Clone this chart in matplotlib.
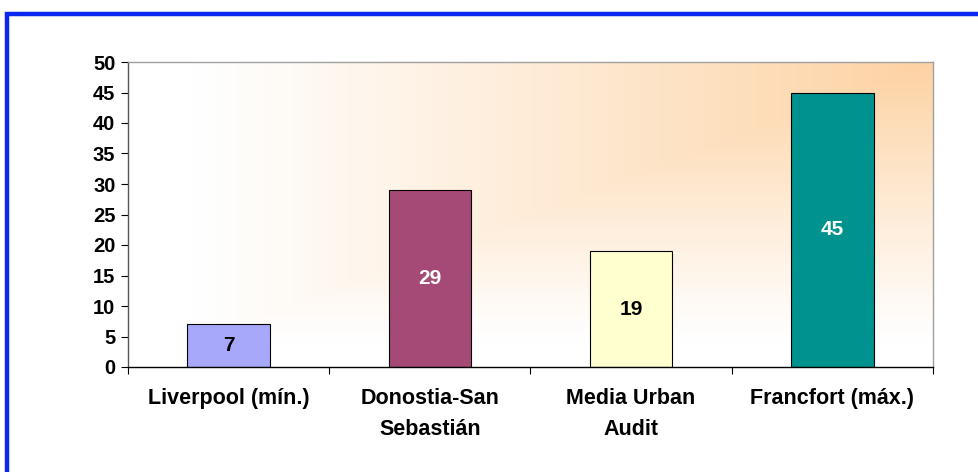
import numpy as np
import matplotlib.pyplot as plt
from matplotlib.patches import Rectangle

# Datos
categorias = ['Liverpool (mín.)', 'Donostia-San\nSebastián', 'Media Urban\nAudit', 'Francfort (máx.)']
valores = [7, 29, 19, 45]
colores = ['#A8A8FA', '#A54A77', '#FFFFD0', '#00928F']
colores_texto = ['black', 'white', 'black', 'white']

plt.rcParams['font.family'] = ['Liberation Sans', 'DejaVu Sans']

fig = plt.figure(figsize=(9.79, 4.72), dpi=100)
ax = fig.add_axes([128 / 979, 1 - 367 / 472, (933 - 128) / 979, (367 - 62) / 472])

# Marco azul (solo se ven los lados izquierdo y superior)
fig.patches.append(Rectangle((7 / 979, -0.1), 1.2, (472 - 13.5) / 472 + 0.1,
                             transform=fig.transFigure, fill=False,
                             edgecolor='#0A28F0', linewidth=3.2, zorder=0))

# Fondo degradado desde la esquina superior derecha (bandas rectangulares)
nx, ny = 400, 200
fx = np.linspace(0, 1, nx)[None, :]
fy = np.linspace(0, 1, ny)[:, None]
t = np.clip((np.minimum(fx, fy) - 0.08) / 0.92, 0, 1) ** 1.1
blanco = np.array([1.0, 1.0, 1.0])
melocoton = np.array([253, 210, 162]) / 255
img = blanco + (melocoton - blanco) * t[..., None]
ax.imshow(img, extent=[-0.5, 3.5, 0, 50], origin='lower', aspect='auto',
          interpolation='bilinear', zorder=0)

x = np.arange(len(valores))
ax.bar(x, valores, width=0.41, color=colores, edgecolor='black', linewidth=0.8, zorder=2)

for xi, v, c in zip(x, valores, colores_texto):
    ax.text(xi, v / 2, str(v), ha='center', va='center', color=c,
            fontsize=15, fontweight='bold', zorder=3)

ax.set_xlim(-0.5, 3.5)
ax.set_ylim(0, 50)
ax.set_yticks(np.arange(0, 51, 5))
ax.set_yticklabels([str(v) for v in range(0, 51, 5)], fontsize=14.5, fontweight='bold')

ax.set_xticks(np.arange(-0.5, 3.6, 1))
ax.set_xticklabels([])
ax.set_xticks(x, minor=True)
ax.set_xticklabels(categorias, minor=True, fontsize=15.5, fontweight='bold', linespacing=1.65)
ax.tick_params(axis='x', which='minor', length=0, pad=15)
ax.tick_params(axis='x', which='major', length=5, direction='out', width=0.8)
ax.tick_params(axis='y', length=5, direction='out', width=0.8, pad=4)

ax.spines['left'].set_color('#555555')
ax.spines['bottom'].set_color('black')
ax.spines['top'].set_color('#A0A0A0')
ax.spines['right'].set_color('#A0A0A0')
for s in ax.spines.values():
    s.set_linewidth(1.0)

fig.savefig('out.png', dpi=100)
